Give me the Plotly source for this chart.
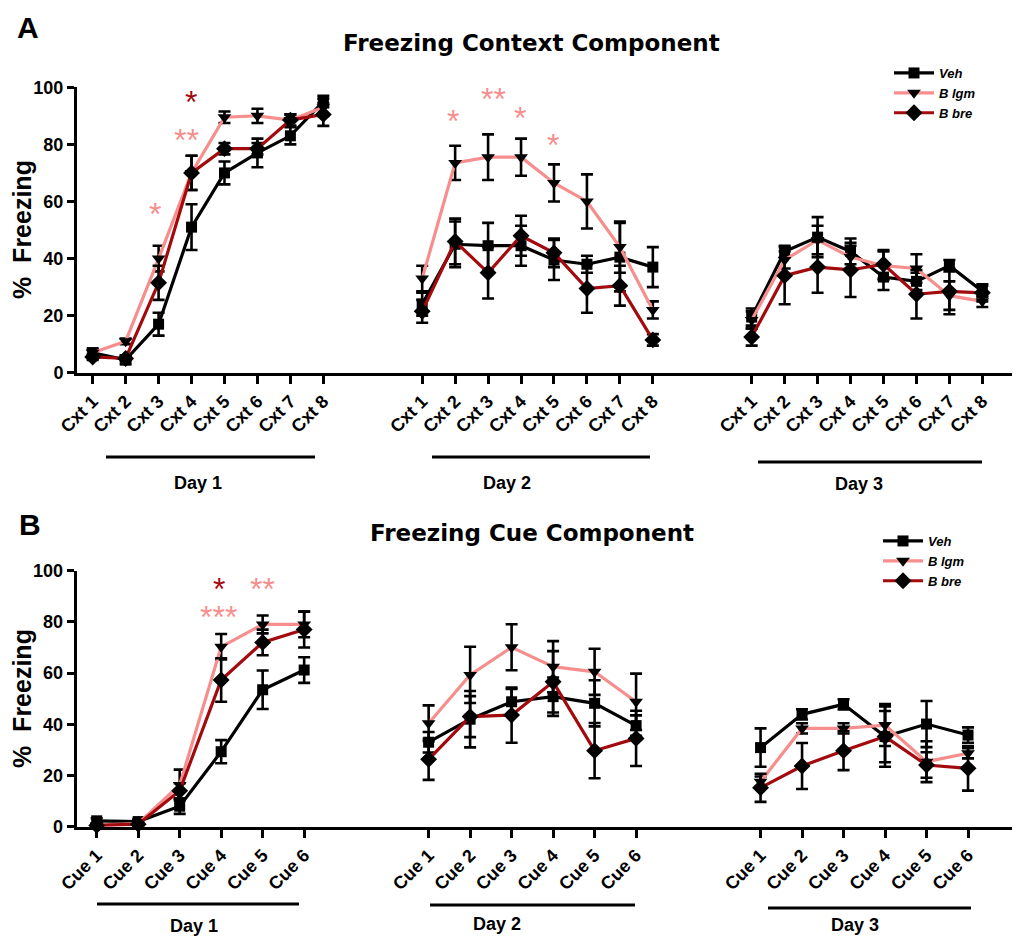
import plotly.graph_objects as go

# ---------------- data ----------------
cxt_labels = ["Cxt 1", "Cxt 2", "Cxt 3", "Cxt 4", "Cxt 5", "Cxt 6", "Cxt 7", "Cxt 8"]
cue_labels = ["Cue 1", "Cue 2", "Cue 3", "Cue 4", "Cue 5", "Cue 6"]
days = ["Day 1", "Day 2", "Day 3"]
series_names = ["Veh", "B lgm", "B bre"]

# Panel A: context component (Day 1, Day 2, Day 3)
veh_A = [[7, 4.5, 17, 51, 70, 77, 83, 95],
         [24, 45, 44.5, 44.5, 39.5, 38, 40.5, 37],
         [19.5, 42.5, 47.5, 42.5, 33.5, 32, 37.5, 28.5]]
veh_A_err = [[1.5, 1.5, 4, 8, 4, 5, 3, 2],
             [4, 8, 8, 7, 7, 3, 12, 7],
             [3, 2, 7, 4.5, 4.5, 3, 2, 2]]
lgm_A = [[7, 11, 40, 70, 89.5, 90, 88.5, 93],
         [33, 73.5, 75.5, 75.5, 66.5, 60, 44, 22],
         [18.5, 39.5, 46.5, 40.5, 37.5, 36.5, 27, 25]]
lgm_A_err = [[1, 1, 4.5, 6, 2, 2.5, 2, 3],
             [4.5, 6, 8, 6.5, 6.5, 9.5, 9, 3],
             [3, 3, 5, 4, 5, 5, 5, 2]]
bre_A = [[5.5, 5, 31.5, 70, 78.5, 78.5, 88.5, 90.5],
         [21.5, 46, 35, 48, 42, 29.5, 30.5, 11.5],
         [12.5, 34, 37, 36, 38, 27.5, 28.5, 28]]
bre_A_err = [[1, 1, 6, 6, 2, 2, 2, 4],
             [4, 8, 9, 7, 5, 8.5, 7, 2],
             [3, 10, 9, 9.5, 5, 8.5, 8, 3]]

# Panel B: cue component
veh_B = [[2.3, 2, 8, 29.3, 53.5, 61.2],
         [33, 42, 48.8, 50.8, 48.2, 39.5],
         [30.9, 43.9, 47.8, 35.2, 40.1, 35.8]]
veh_B_err = [[1, 1, 3, 4.5, 7.5, 5],
             [4, 11, 5, 7.5, 9, 4],
             [7.5, 2, 2, 10, 9, 3]]
lgm_B = [[0.5, 1.3, 16.3, 70.3, 79, 79],
         [40.4, 59.3, 70.1, 62.5, 60.5, 48.8],
         [17.6, 38.4, 38.4, 39.7, 25.4, 28.7]]
lgm_B_err = [[0.5, 0.5, 6, 5, 3.5, 5],
             [7, 11, 9, 10, 9, 11],
             [2, 2, 2, 8.2, 8, 2]]
bre_B = [[0.5, 1, 14, 57.3, 72, 77],
         [26.3, 43, 43.6, 56.6, 29.7, 34.5],
         [15.2, 23.7, 29.7, 35.2, 24.1, 22.8]]
bre_B_err = [[0.5, 0.5, 3, 8.5, 5, 7],
             [8, 8, 10.8, 12, 10.8, 10.8],
             [5.5, 9, 7.6, 11.8, 5, 8.7]]

# significance marks: (text, day index, category position, y value, series)
sig_A = [("*", 0, 1.89, 58, "B lgm"), ("**", 0, 2.85, 84, "B lgm"), ("*", 0, 2.97, 97.3, "B bre"),
         ("*", 0, 3.78, 101.6, "B lgm"), ("*", 0, 5.0, 105.5, "B lgm"),
         ("*", 1, 0.94, 90.6, "B lgm"), ("**", 1, 2.16, 98.5, "B lgm"),
         ("*", 1, 2.97, 91.8, "B lgm"), ("*", 1, 3.96, 82.1, "B lgm")]
sig_B = [("***", 0, 2.93, 84.6, "B lgm"), ("*", 0, 2.95, 95.7, "B bre"),
         ("**", 0, 3.99, 95.7, "B lgm"), ("*", 0, 4.03, 104.8, "B bre")]

# ---------------- style ----------------
colors = {"Veh": "#000000", "B lgm": "#F78E8E", "B bre": "#A30A0E"}
symbols = {"Veh": "square", "B lgm": "triangle-down", "B bre": "diamond"}
msize = {"Veh": 11, "B lgm": 12, "B bre": 13}
FONT = "Liberation Sans, Arial, sans-serif"
TFONT = "DejaVu Sans, Liberation Sans, sans-serif"
GAP_A = 10  # category slots per day block in panel A
GAP_B = 8
NB = "\u00a0"

W, H = 1022, 939
def px(x):
    return x / W
def py(y):
    return 1 - y / H

fig = go.Figure()

def add_panel(values, errs, gap, xa, ya, legend, show):
    for name, vals, err in zip(series_names, values, errs):
        xs, ys, es = [], [], []
        for d in range(3):
            for i, v in enumerate(vals[d]):
                xs.append(d * gap + i)
                ys.append(v)
                es.append(err[d][i])
            xs.append(None); ys.append(None); es.append(None)
        fig.add_trace(go.Scatter(
            x=xs, y=ys, mode="lines+markers", name=name,
            xaxis=xa, yaxis=ya, legend=legend, showlegend=show,
            line=dict(color=colors[name], width=3.2),
            marker=dict(color="black", symbol=symbols[name], size=msize[name]),
            error_y=dict(type="data", array=es, visible=True, color="black",
                         thickness=2.6, width=6),
            cliponaxis=False, connectgaps=False,
        ))

vA = [veh_A, lgm_A, bre_A]
eA = [veh_A_err, lgm_A_err, bre_A_err]
vB = [veh_B, lgm_B, bre_B]
eB = [veh_B_err, lgm_B_err, bre_B_err]
add_panel(vA, eA, GAP_A, "x", "y", "legend", True)
add_panel(vB, eB, GAP_B, "x2", "y2", "legend2", True)

tickvals_A = [d * GAP_A + i for d in range(3) for i in range(len(cxt_labels))]
ticktext_A = cxt_labels * 3
tickvals_B = [d * GAP_B + i for d in range(3) for i in range(len(cue_labels))]
ticktext_B = cue_labels * 3

axis_common = dict(showgrid=False, zeroline=False, showline=True, linecolor="black",
                   linewidth=3, ticks="outside", tickcolor="black", tickwidth=2.6,
                   automargin=False,
                   tickfont=dict(family=FONT, size=18, color="black", weight="bold"))

legend_font = dict(family=FONT, size=13, color="black", weight="bold", style="italic")
fig.update_layout(
    width=W, height=H, margin=dict(l=0, r=0, t=0, b=0, autoexpand=False),
    paper_bgcolor="white", plot_bgcolor="white",
    xaxis=dict(domain=[px(77), px(1012)], range=[-0.476, 27.9], tickvals=tickvals_A,
               ticktext=ticktext_A, tickangle=-45, ticklen=8, anchor="y", **axis_common),
    yaxis=dict(domain=[py(372.7), py(87.3)], range=[0, 100], tickvals=[0, 20, 40, 60, 80, 100],
               ticklen=7, anchor="x", **axis_common),
    xaxis2=dict(domain=[px(76.7), px(1012)], range=[-0.482, 22.06], tickvals=tickvals_B,
                ticktext=ticktext_B, tickangle=-45, ticklen=8, anchor="y2", **axis_common),
    yaxis2=dict(domain=[py(826.7), py(570.7)], range=[0, 100], tickvals=[0, 20, 40, 60, 80, 100],
                ticklen=7, anchor="x2", **axis_common),
    legend=dict(x=px(889), y=py(58), xanchor="left", yanchor="top", bgcolor="rgba(0,0,0,0)",
                font=legend_font, itemwidth=40, tracegroupgap=0),
    legend2=dict(x=px(878), y=py(526), xanchor="left", yanchor="top", bgcolor="rgba(0,0,0,0)",
                 font=legend_font, itemwidth=40, tracegroupgap=0),
)

ann = []
# panel letters and titles
ann.append(dict(text="A", x=px(28), y=py(28), font=dict(family=FONT, size=30, weight="bold")))
ann.append(dict(text="B", x=px(30), y=py(524), font=dict(family=FONT, size=30, weight="bold")))
ann.append(dict(text="Freezing Context Component", x=px(531), y=py(43),
                font=dict(family=TFONT, size=23, weight="bold")))
ann.append(dict(text="Freezing Cue Component", x=px(532), y=py(533),
                font=dict(family=TFONT, size=23, weight="bold")))
# y titles
ann.append(dict(text="%" + NB + NB + "Freezing", x=px(22), y=py(230), textangle=-90,
                font=dict(family=FONT, size=25, weight="bold")))
ann.append(dict(text="%" + NB + NB + "Freezing", x=px(22), y=py(699), textangle=-90,
                font=dict(family=FONT, size=25, weight="bold")))
# day labels
for (lx, ly), d in zip([(198, 483), (507, 483), (859, 484)], days):
    ann.append(dict(text=d, x=px(lx), y=py(ly), font=dict(family=FONT, size=18, weight="bold")))
for (lx, ly), d in zip([(194, 926), (497, 924), (855, 925)], days):
    ann.append(dict(text=d, x=px(lx), y=py(ly), font=dict(family=FONT, size=18, weight="bold")))
for a in ann:
    a.update(xref="paper", yref="paper", showarrow=False, xanchor="center", yanchor="middle")
    a["font"]["color"] = "black"

# significance asterisks (compact boxes: the glyph sits in the top of the line box)
for txt, d, pos, yv, s in sig_A:
    ann.append(dict(text=txt, x=d * GAP_A + pos, y=yv, xref="x", yref="y", showarrow=False,
                    height=20, valign="top", yshift=1,
                    font=dict(family=FONT, size=32, color=colors[s])))
for txt, d, pos, yv, s in sig_B:
    ann.append(dict(text=txt, x=d * GAP_B + pos, y=yv, xref="x2", yref="y2", showarrow=False,
                    height=20, valign="top", yshift=1,
                    font=dict(family=FONT, size=32, color=colors[s])))
fig.update_layout(annotations=ann)

# day underline bars
shapes = []
for x0, x1, yy in [(106, 315, 457), (432, 650, 457), (758, 982, 462),
                   (97, 299, 904), (430, 635, 905), (768, 971, 908)]:
    shapes.append(dict(type="line", xref="paper", yref="paper", x0=px(x0), x1=px(x1),
                       y0=py(yy), y1=py(yy), line=dict(color="black", width=3)))
fig.update_layout(shapes=shapes)

# remove the default 8px page margin so the figure fills the window exactly
fig.write_html("out.html", config={"displayModeBar": False},
               post_script="document.body.style.margin='0px';")
